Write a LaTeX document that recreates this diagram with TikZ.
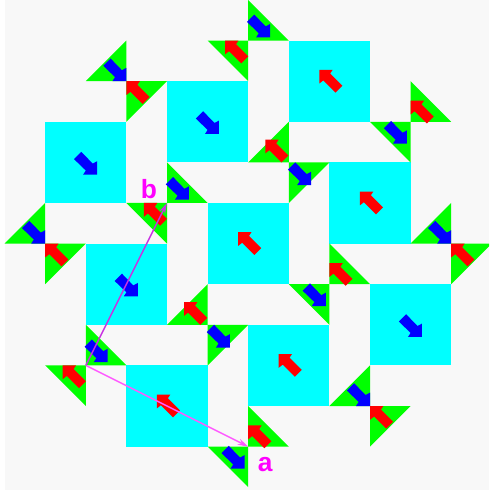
\documentclass[tikz,border=0pt]{standalone}
\usepackage{fontspec}
\setsansfont{Liberation Sans}
\usetikzlibrary{arrows.meta}

\definecolor{tilegreen}{RGB}{0,255,0}
\definecolor{tilecyan}{RGB}{0,255,255}
\definecolor{paper}{RGB}{248,248,248}
\definecolor{labelpink}{RGB}{255,0,255}
\definecolor{vecpink}{RGB}{255,90,255}
\definecolor{vecpurple}{RGB}{200,50,225}

\tikzset{
  bigsq/.style={fill=tilecyan, draw=none, minimum size=0.812cm*2, inner sep=0pt, outer sep=0pt},
  vec/.style={-{Stealth[length=6pt,width=3.5pt]}, line width=0.85pt},
  veclabel/.style={text=labelpink, font=\sffamily\bfseries\fontsize{15}{15}\selectfont, inner sep=0pt},
  bluearrow/.pic={\fill[blue] (0.28,0.30) -- (0.28,-0.03) -- (0.17,0.03) -- (-0.11,-0.26) -- (-0.29,-0.08) -- (0,0.20) -- (-0.065,0.30) -- cycle;},
  redarrow/.pic={\fill[red] (-0.25,-0.28) -- (0.08,-0.28) -- (0.02,-0.19) -- (0.32,0.11) -- (0.15,0.28) -- (-0.15,-0.02) -- (-0.25,0.06) -- cycle;},
  bluetl/.pic={\fill[tilegreen] (0,0) -- (1,0) -- (0,1) -- cycle; \pic at (0.27,0.26) {bluearrow};},
  bluetr/.pic={\fill[tilegreen] (0,0) -- (-1,0) -- (0,1) -- cycle; \pic at (-0.37,0.24) {bluearrow};},
  bluebl/.pic={\fill[tilegreen] (0,0) -- (1,0) -- (0,-1) -- cycle; \pic at (0.26,-0.38) {bluearrow};},
  bluebr/.pic={\fill[tilegreen] (0,0) -- (-1,0) -- (0,-1) -- cycle; \pic at (-0.28,-0.30) {bluearrow};},
  redtl/.pic={\fill[tilegreen] (0,0) -- (1,0) -- (0,1) -- cycle; \pic at (0.25,0.28) {redarrow};},
  redtr/.pic={\fill[tilegreen] (0,0) -- (-1,0) -- (0,1) -- cycle; \pic at (-0.32,0.28) {redarrow};},
  redbl/.pic={\fill[tilegreen] (0,0) -- (1,0) -- (0,-1) -- cycle; \pic at (0.25,-0.24) {redarrow};},
  redbr/.pic={\fill[tilegreen] (0,0) -- (-1,0) -- (0,-1) -- cycle; \pic at (-0.33,-0.28) {redarrow};},
}

\begin{document}
\begin{tikzpicture}[x=0.812cm, y=-0.812cm]

% page, grid point (i,j) sits at pixel (4.6+40.6i, 40.6j)
\useasboundingbox (-0.1133,0) rectangle (11.931,12.069);
\clip (-0.1133,0) rectangle (11.931,12.069);
\fill[white] (-0.1133,0) rectangle (11.931,12.069);
\fill[paper] (0.01,0) rectangle (11.931,12.069);

% big squares
\node[bigsq] (sq1) at (8,2)  {};
\node[bigsq] (sq2) at (5,3)  {};
\node[bigsq] (sq3) at (2,4)  {};
\node[bigsq] (sq4) at (9,5)  {};
\node[bigsq] (sq5) at (6,6)  {};
\node[bigsq] (sq6) at (3,7)  {};
\node[bigsq] (sq7) at (10,8) {};
\node[bigsq] (sq8) at (7,9)  {};
\node[bigsq] (sq9) at (4,10) {};

\pic at (sq1) {redarrow};
\pic at (sq2) {bluearrow};
\pic at (sq3) {bluearrow};
\pic at (sq4) {redarrow};
\pic at (sq5) {redarrow};
\pic at (sq6) {bluearrow};
\pic at (sq7) {bluearrow};
\pic at (sq8) {redarrow};
\pic at (sq9) {redarrow};

% triangle pairs
\pic at (6,1)  {bluebl};
\pic at (6,1)  {redtr};

\pic at (3,2)  {bluebr};
\pic at (3,2)  {redtl};

\pic at (7,4)  {redbr};
\pic at (7,4)  {bluetl};

\pic at (10,3) {redbl};
\pic at (10,3) {bluetr};

\pic at (1,6)  {bluebr};
\pic at (1,6)  {redtl};

\pic at (4,5)  {bluebl};
\pic at (4,5)  {redtr};

\pic at (11,6) {bluebr};
\pic at (11,6) {redtl};

\pic at (8,7)  {redbl};
\pic at (8,7)  {bluetr};

\pic at (5,8)  {redbr};
\pic at (5,8)  {bluetl};

\pic at (2,9)  {bluebl};
\pic at (2,9)  {redtr};

\pic at (9,10) {bluebr};
\pic at (9,10) {redtl};

\pic at (6,11) {redbl};
\pic at (6,11) {bluetr};

% lattice vectors
\coordinate (orig) at (2,9);
\coordinate (veca) at (6,11);
\coordinate (vecb) at (4,5);

\draw[vec, draw=vecpink, fill=vecpink] (orig) -- (veca);
\draw[vec, draw=vecpurple, fill=vecpurple] (orig) -- (vecb);

\node[veclabel] (laba) at (6.42,11.43) {a};
\node[veclabel] (labb) at (3.555,4.65) {b};

\end{tikzpicture}
\end{document}
